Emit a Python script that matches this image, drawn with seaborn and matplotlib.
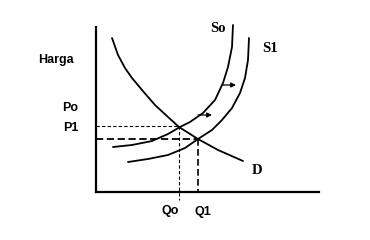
import matplotlib
matplotlib.use("Agg")
import matplotlib.pyplot as plt
import seaborn as sns
import pandas as pd

# Demand curve D
d_q = [16, 22, 29, 36, 46, 59, 72, 83, 102, 122, 147]
d_p = [154, 137, 124, 114, 102, 87, 75, 65, 53, 42, 31]
# Supply curve So
s0_q = [17, 36, 56, 72, 84, 94, 107, 119, 127, 132, 136, 137]
s0_p = [45, 47, 51, 58, 65, 70, 79, 92, 109, 125, 145, 167]
# Supply curve S1
s1_q = [32, 52, 72, 89, 102, 116, 126, 136, 144, 149, 152, 153]
s1_p = [30, 33, 37, 44, 53, 62, 72, 84, 99, 114, 132, 154]

# equilibrium values
p0, p1 = 66, 53
q0, q1 = 83, 102

sns.set_theme(style="white")
plt.rcParams['font.family'] = ['Liberation Sans', 'DejaVu Sans']
plt.rcParams['text.color'] = 'black'

fig = plt.figure(figsize=(3.7, 2.4), dpi=100)
ax = fig.add_axes([96/370, 48/240, 223/370, 165/240])

curves = [(d_q, d_p), (s0_q, s0_p), (s1_q, s1_p)]
for q, p in curves:
    df = pd.DataFrame({"Q": q, "P": p})
    sns.lineplot(data=df, x="Q", y="P", sort=False, color="black",
                 linewidth=1.3, ax=ax, clip_on=False)

# dashed guide lines
ax.plot([0, q0], [p0, p0], color="black", linestyle=(0, (3, 2)), linewidth=0.8)
ax.plot([0, q1], [p1, p1], color="black", linestyle=(0, (4, 2)), linewidth=1.3)
ax.plot([q0, q0], [p0, -8], color="black", linestyle=(0, (3, 2)), linewidth=0.8, clip_on=False)
ax.plot([q1, q1], [p1, 0], color="black", linestyle=(0, (4, 2)), linewidth=1.2)

# shift arrows
for (xa, xb, ya) in [(126, 140, 107), (102, 116, 77)]:
    ax.annotate("", xy=(xb, ya), xytext=(xa, ya),
                arrowprops=dict(arrowstyle="-|>", color="black", lw=0.9,
                                mutation_scale=7, shrinkA=0, shrinkB=0))

ax.set_xlim(0, 223)
ax.set_ylim(0, 165)
ax.set_xticks([])
ax.set_yticks([])
ax.set_xlabel("")
ax.set_ylabel("")
sns.despine(ax=ax)
for s in ["left", "bottom"]:
    ax.spines[s].set_color("black")
    ax.spines[s].set_linewidth(1.6)

serif = dict(family=['Liberation Serif', 'DejaVu Serif'], fontweight="bold",
             fontsize=10.5, color="black")
sans = dict(fontweight="bold", fontsize=9, color="black")
ax.text(122, 163, "So", ha="center", va="center", clip_on=False, **serif)
ax.text(174, 144, "S1", ha="center", va="center", clip_on=False, **serif)
ax.text(161, 22, "D", ha="center", va="center", clip_on=False, **serif)
ax.text(-22, 132, "Harga", ha="right", va="center", clip_on=False, **sans)
ax.text(-18, 84, "Po", ha="right", va="center", clip_on=False, **sans)
ax.text(-17, 64, "P1", ha="right", va="center", clip_on=False, **sans)
ax.text(74, -19, "Qo", ha="center", va="center", clip_on=False, **sans)
ax.text(107, -20, "Q1", ha="center", va="center", clip_on=False, **sans)

fig.savefig("out.png", dpi=100)
